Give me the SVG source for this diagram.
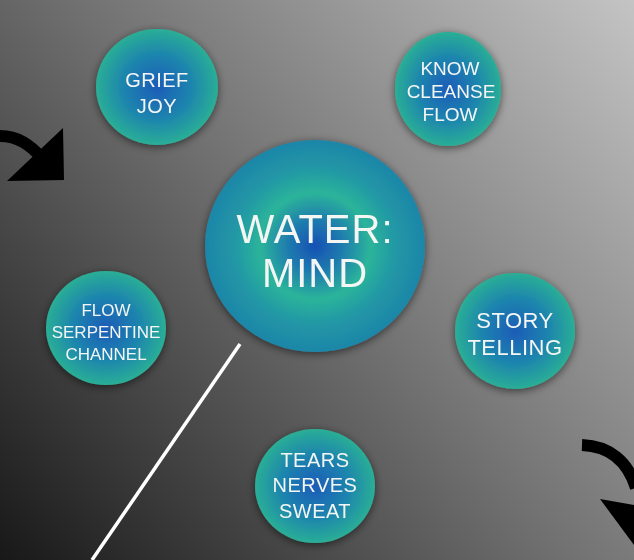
<svg xmlns="http://www.w3.org/2000/svg" width="634" height="560" viewBox="0 0 634 560">
  <defs>
    <linearGradient id="bg" x1="0" y1="560" x2="634" y2="0" gradientUnits="userSpaceOnUse">
      <stop offset="0" stop-color="#181818"/>
      <stop offset="0.5" stop-color="#707070"/>
      <stop offset="1" stop-color="#c4c4c4"/>
    </linearGradient>
    <radialGradient id="small" cx="0.5" cy="0.5" r="0.5">
      <stop offset="0" stop-color="#1a5cb8"/>
      <stop offset="0.55" stop-color="#1d84ae"/>
      <stop offset="1" stop-color="#2aae96"/>
    </radialGradient>
    <radialGradient id="big" cx="0.5" cy="0.5" r="0.5">
      <stop offset="0" stop-color="#1650b4"/>
      <stop offset="0.25" stop-color="#1f7cae"/>
      <stop offset="0.5" stop-color="#2bb49a"/>
      <stop offset="0.75" stop-color="#2196a6"/>
      <stop offset="1" stop-color="#1e86a8"/>
    </radialGradient>
    <filter id="shadow" x="-20%" y="-20%" width="140%" height="140%">
      <feDropShadow dx="0" dy="2" stdDeviation="4" flood-color="#000" flood-opacity="0.55"/>
    </filter>
  </defs>
  <style>
    .node { filter: url(#shadow); }
    .s { fill: url(#small); }
    .b { fill: url(#big); }
    .t { font-family: "Liberation Sans", "DejaVu Sans", sans-serif; fill: #f4f6f4; text-anchor: middle; font-size: 20px; letter-spacing: 0.5px; }
    .tb { font-size: 40px; letter-spacing: 1px; }
    .arc { fill: none; stroke: #000; stroke-width: 12; }
  </style>
  <rect width="634" height="560" fill="url(#bg)"/>

  <g id="arrows">
    <path class="arc" d="M0,136 C18,136 30,145 42,158"/>
    <polygon points="63,128 64,180 7,181" fill="#000"/>
    <path class="arc" d="M582,445 C610,446 628,462 636,488"/>
    <polygon points="600,499 634,505 634,545" fill="#000"/>
  </g>

  <g id="connectors">
    <line x1="240" y1="344" x2="92" y2="560" stroke="#fff" stroke-width="3.5"/>
  </g>

  <g id="node-grief" class="node">
    <ellipse class="s" cx="157" cy="87" rx="61" ry="58"/>
    <text class="t" x="157" y="87">GRIEF</text>
    <text class="t" x="157" y="113">JOY</text>
  </g>

  <g id="node-know" class="node">
    <ellipse class="s" cx="448" cy="89" rx="53" ry="57"/>
    <text class="t" x="450" y="75" style="font-size:19px;letter-spacing:0">KNOW</text>
    <text class="t" x="451" y="98" style="font-size:19px;letter-spacing:0">CLEANSE</text>
    <text class="t" x="450" y="121" style="font-size:19px;letter-spacing:0">FLOW</text>
  </g>

  <g id="node-water" class="node">
    <ellipse class="b" cx="315" cy="246" rx="110" ry="106"/>
    <text class="t tb" x="315" y="243">WATER:</text>
    <text class="t tb" x="315" y="287">MIND</text>
  </g>

  <g id="node-flow" class="node">
    <ellipse class="s" cx="106" cy="328" rx="60" ry="57"/>
    <text class="t" x="106" y="316" style="font-size:17px;letter-spacing:0">FLOW</text>
    <text class="t" x="106" y="338" style="font-size:17px;letter-spacing:0">SERPENTINE</text>
    <text class="t" x="106" y="360" style="font-size:17px;letter-spacing:0">CHANNEL</text>
  </g>

  <g id="node-story" class="node">
    <ellipse class="s" cx="515" cy="331" rx="60" ry="58"/>
    <text class="t" x="515" y="328" style="font-size:22px">STORY</text>
    <text class="t" x="515" y="355" style="font-size:22px">TELLING</text>
  </g>

  <g id="node-tears" class="node">
    <ellipse class="s" cx="315" cy="486" rx="60" ry="57"/>
    <text class="t" x="315" y="467">TEARS</text>
    <text class="t" x="315" y="492">NERVES</text>
    <text class="t" x="315" y="518">SWEAT</text>
  </g>
</svg>
